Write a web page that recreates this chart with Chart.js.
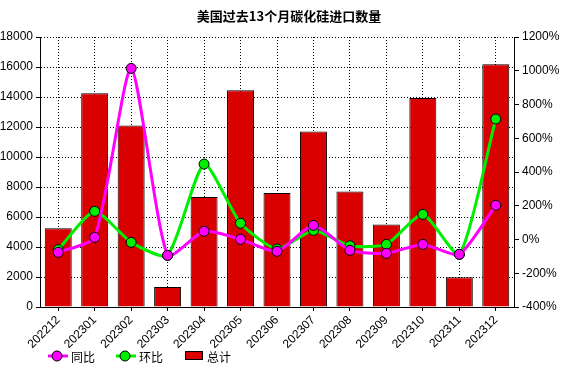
<!DOCTYPE html>
<html>
<head>
<meta charset="utf-8">
<script src="https://cdn.jsdelivr.net/npm/chart.js@4"></script>
<style>
  html, body { margin: 0; padding: 0; background: #fff; }
  #wrap { width: 587px; height: 371px; position: relative; }
</style>
</head>
<body>
<div id="wrap"><canvas id="myChart" width="587" height="371"></canvas></div>
<script>
const months = ['202212', '202301', '202302', '202303', '202304', '202305', '202306',
  '202307', '202308', '202309', '202310', '202311', '202312']
const total = [5250, 14250, 12100, 1330, 7330, 14450, 7600, 11700, 7700, 5500, 13930, 1980, 16180]
const yoy = [-76, 13, 1014, -94, 49, 1, -70, 84, -64, -82, -29, -88, 203]
const mom = [-60, 167, -17, -94, 447, 96, -56, 54, -37, -29, 149, -88, 714]

const titleText = '美国过去13个月碳化硅进口数量'
const legendItems = [
  { label: '同比', type: 'line', color: '#FF00FF' },
  { label: '环比', type: 'line', color: '#00EE00' },
  { label: '总计', type: 'bar', color: '#D90000' },
]

const fontFamily = 'Arial, "Liberation Sans", "Noto Sans CJK SC", sans-serif'

const titleAndLegend = {
  id: 'titleAndLegend',
  afterDraw(chart) {
    const ctx = chart.ctx
    ctx.save()
    ctx.fillStyle = '#000'
    ctx.font = 'bold 13px "Noto Sans CJK SC", sans-serif'
    ctx.textAlign = 'center'
    ctx.textBaseline = 'middle'
    ctx.fillText(titleText, 289, 16)

    ctx.font = '12px "Noto Sans CJK SC", sans-serif'
    ctx.textAlign = 'left'
    const xs = [48, 116, 185]
    const y = 356
    legendItems.forEach((item, i) => {
      const x = xs[i]
      if (item.type === 'line') {
        ctx.strokeStyle = item.color
        ctx.lineWidth = 3
        ctx.beginPath()
        ctx.moveTo(x, y)
        ctx.lineTo(x + 20, y)
        ctx.stroke()
        ctx.beginPath()
        ctx.arc(x + 9, y, 5, 0, Math.PI * 2)
        ctx.fillStyle = item.color
        ctx.fill()
        ctx.lineWidth = 1
        ctx.strokeStyle = '#000'
        ctx.stroke()
        ctx.fillStyle = '#000'
        ctx.fillText(item.label, x + 23, y + 1)
      } else {
        ctx.fillStyle = item.color
        ctx.fillRect(x, y - 5, 17, 8)
        ctx.strokeStyle = '#000'
        ctx.lineWidth = 1
        ctx.strokeRect(x + 0.5, y - 4.5, 17, 8)
        ctx.fillStyle = '#000'
        ctx.fillText(item.label, x + 22, y + 1)
      }
    })
    ctx.restore()
  }
}

const tickFont = { family: fontFamily, size: 12 }

const config = {
  type: 'bar',
  data: {
    labels: months,
    datasets: [
      {
        type: 'line',
        label: '同比',
        data: yoy,
        yAxisID: 'y1',
        borderColor: '#FF00FF',
        backgroundColor: '#FF00FF',
        borderWidth: 3,
        pointRadius: 5,
        pointBorderColor: '#000',
        pointBorderWidth: 1,
        pointBackgroundColor: '#FF00FF',
        tension: 0.2,
        order: 0,
      },
      {
        type: 'line',
        label: '环比',
        data: mom,
        yAxisID: 'y1',
        borderColor: '#00EE00',
        backgroundColor: '#00EE00',
        borderWidth: 3,
        pointRadius: 5,
        pointBorderColor: '#000',
        pointBorderWidth: 1,
        pointBackgroundColor: '#00EE00',
        tension: 0.2,
        order: 1,
      },
      {
        label: '总计',
        data: total,
        yAxisID: 'y',
        backgroundColor: '#D90000',
        borderColor: '#000',
        borderWidth: 1,
        categoryPercentage: 0.74,
        barPercentage: 1,
        order: 2,
      },
    ],
  },
  options: {
    responsive: false,
    animation: false,
    layout: { padding: { top: 37, left: 0, right: 0, bottom: 0 } },
    plugins: {
      legend: { display: false },
      title: { display: false },
      tooltip: { enabled: false },
    },
    scales: {
      x: {
        grid: {
          offset: false,
          color: '#000',
          lineWidth: 1,
          tickBorderDash: [],
          tickLength: 4,
        },
        border: { color: '#000', width: 1, dash: [1, 2] },
        ticks: { color: '#000', font: tickFont, maxRotation: 45, minRotation: 45, padding: 2 },
        afterFit(scale) { scale.height = 64 },
      },
      y: {
        position: 'left',
        min: 0,
        max: 18000,
        grid: {
          color: '#000',
          lineWidth: 1,
          tickBorderDash: [],
          tickLength: 4,
        },
        border: { color: '#000', width: 1, dash: [1, 2] },
        ticks: { color: '#000', font: tickFont, stepSize: 2000, padding: 3, callback: (v) => String(v) },
        afterFit(scale) { scale.width = 40 },
      },
      y1: {
        position: 'right',
        min: -400,
        max: 1200,
        grid: { drawOnChartArea: false, color: '#000', tickLength: 5 },
        border: { color: '#000', width: 1 },
        ticks: { color: '#000', font: tickFont, stepSize: 200, padding: 3, callback: (v) => v + '%' },
        afterFit(scale) { scale.width = 73 },
      },
    },
  },
  plugins: [titleAndLegend],
}

const myChart = new Chart(document.getElementById('myChart'), config)
</script>
</body>
</html>
